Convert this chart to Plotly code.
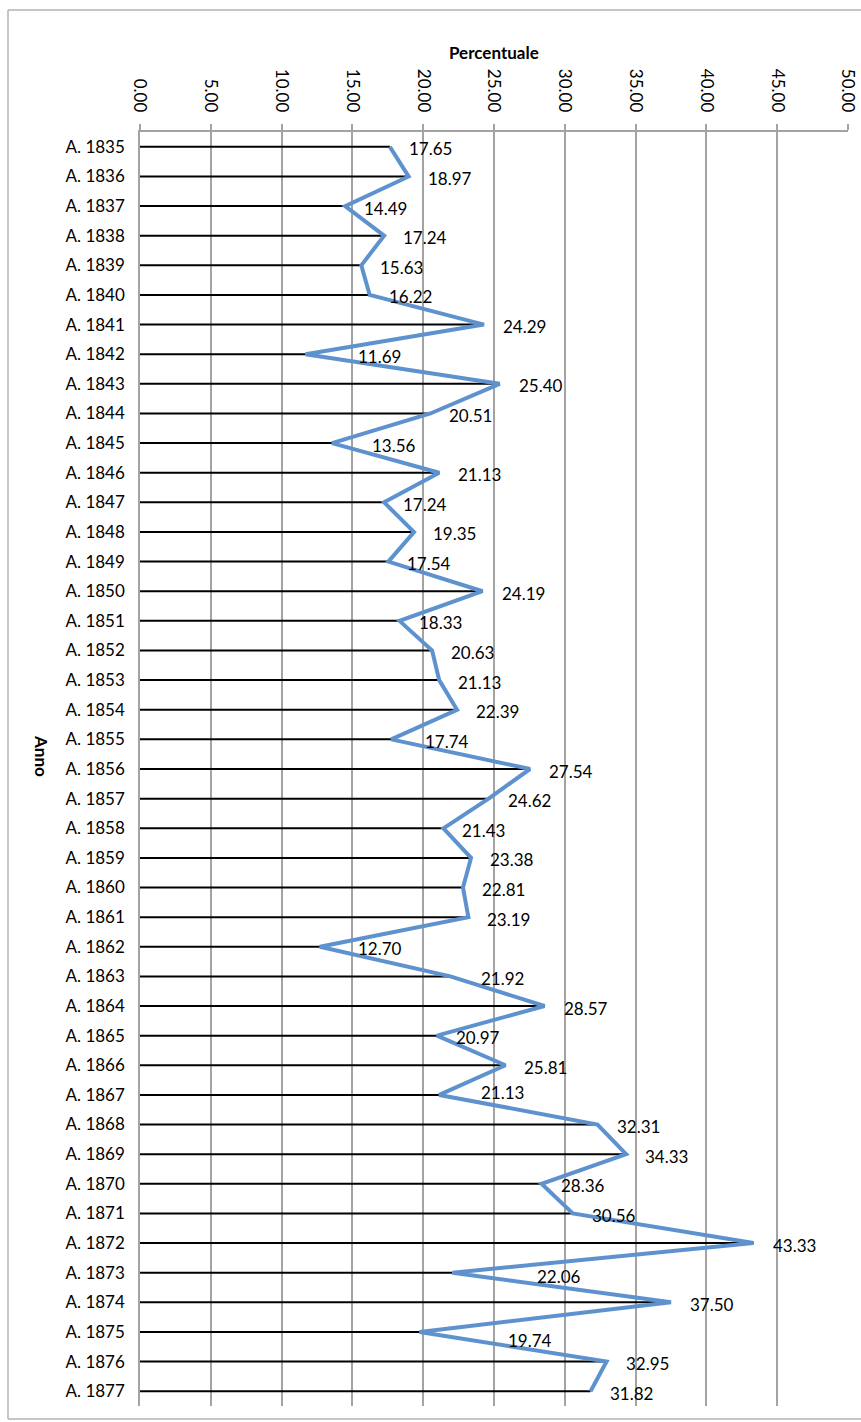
import plotly.graph_objects as go

# Percentuale annuale, 1835-1877
anni = [f"A. {y}" for y in range(1835, 1878)]
percentuale = [
    17.65, 18.97, 14.49, 17.24, 15.63, 16.22, 24.29, 11.69, 25.40, 20.51,
    13.56, 21.13, 17.24, 19.35, 17.54, 24.19, 18.33, 20.63, 21.13, 22.39,
    17.74, 27.54, 24.62, 21.43, 23.38, 22.81, 23.19, 12.70, 21.92, 28.57,
    20.97, 25.81, 21.13, 32.31, 34.33, 28.36, 30.56, 43.33, 22.06, 37.50,
    19.74, 32.95, 31.82,
]
x_ticks = [0, 5, 10, 15, 20, 25, 30, 35, 40, 45, 50]

# label placement (pixels): default offset plus hand-moved labels
LABEL_DX = 17
LABEL_DY = -2
label_nudge = {
    "A. 1842": (33, 0), "A. 1845": (21, 0), "A. 1855": (15, 0),
    "A. 1862": (19, 0), "A. 1863": (12, 0), "A. 1867": (23, 4),
    "A. 1873": (66, -2), "A. 1875": (69, -7),
}

FONT = "Lato, 'Open Sans', sans-serif"
GRID = "#A3A3A3"
BLUE = "#5E92CF"
FRAME = "#B3B3B3"

W, H = 861, 1422
L, R, T, B = 140, 13, 132, 16
pw, ph = W - L - R, H - T - B

fig = go.Figure()

# drop lines from the axis to each value
dx, dy = [], []
for a, v in zip(anni, percentuale):
    dx += [0, v, None]
    dy += [a, a, None]
fig.add_trace(go.Scatter(x=dx, y=dy, mode="lines",
                         line=dict(color="black", width=2),
                         hoverinfo="skip", showlegend=False))

fig.add_trace(go.Scatter(x=percentuale, y=anni, mode="lines",
                         line=dict(color=BLUE, width=4),
                         showlegend=False))

annotations = []
for a, v in zip(anni, percentuale):
    nx, ny = label_nudge.get(a, (0, 0))
    annotations.append(dict(
        x=v, y=a, xref="x", yref="y", text=f"{v:.2f}", showarrow=False,
        xanchor="left", yanchor="middle", xshift=LABEL_DX + nx, yshift=LABEL_DY + ny,
        font=dict(family=FONT, size=17, color="black"),
    ))

def px_x(p):
    return (p - L) / pw

def px_y(p):
    return (H - B - p) / ph

annotations.append(dict(
    x=0.5, y=px_y(52), xref="paper", yref="paper", text="<b>Percentuale</b>",
    showarrow=False, xanchor="center", yanchor="middle",
    font=dict(family=FONT, size=17, color="black"),
))
annotations.append(dict(
    x=px_x(42), y=px_y(756), xref="paper", yref="paper", text="<b>Anno</b>",
    showarrow=False, xanchor="center", yanchor="middle", textangle=90,
    font=dict(family=FONT, size=17, color="black"),
))

# chart frame: top, left and bottom edges (right edge runs off the page)
fx0, fx1 = px_x(8), px_x(900)
fy0, fy1 = px_y(1419), px_y(10)
frame = [
    dict(type="line", xref="paper", yref="paper", x0=fx0, x1=fx1, y0=fy1, y1=fy1),
    dict(type="line", xref="paper", yref="paper", x0=fx0, x1=fx0, y0=fy0, y1=fy1),
    dict(type="line", xref="paper", yref="paper", x0=fx0, x1=fx1, y0=fy0, y1=fy0),
]
for s in frame:
    s.update(line=dict(color=FRAME, width=1.5), layer="below")

fig.update_layout(
    width=W, height=H,
    margin=dict(l=L, r=R, t=T, b=B, pad=0, autoexpand=False),
    paper_bgcolor="white", plot_bgcolor="white",
    font=dict(family=FONT, size=17, color="black"),
    annotations=annotations,
    shapes=frame,
    xaxis=dict(
        side="top", range=[0, 50], tickvals=x_ticks,
        ticktext=[f"{t:.2f}" for t in x_ticks], tickangle=90,
        showgrid=True, gridcolor=GRID, gridwidth=1.5,
        showline=True, linecolor=GRID, linewidth=1.5,
        ticks="outside", ticklen=6, tickcolor=GRID, tickwidth=1.5,
        zeroline=False, ticklabelstandoff=6, automargin=False,
        tickfont=dict(family=FONT, size=17, color="black"),
    ),
    yaxis=dict(
        type="category", categoryorder="array", categoryarray=anni,
        range=[len(anni) - 0.5, -0.5],
        showgrid=False, zeroline=False, automargin=False,
        showline=True, linecolor=GRID, linewidth=1.5,
        ticks="", ticklabelstandoff=10,
        tickfont=dict(family=FONT, size=17, color="black"),
    ),
)

fig.write_html("out.html")
